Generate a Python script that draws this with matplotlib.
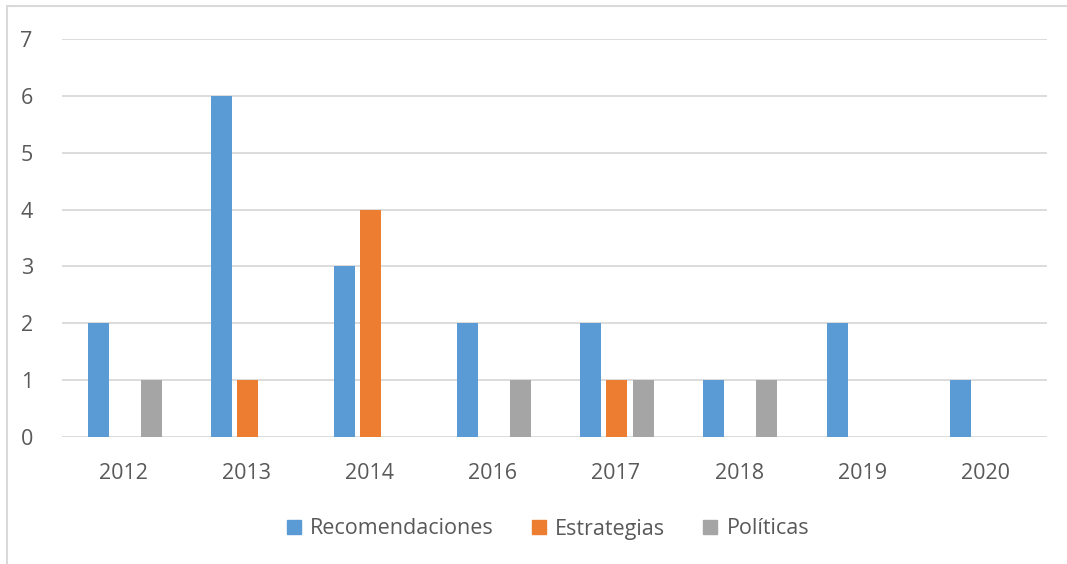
import matplotlib.pyplot as plt
import matplotlib.patches as mpatches
import numpy as np

# --- data ---
years = ["2012", "2013", "2014", "2016", "2017", "2018", "2019", "2020"]
recomendaciones = [2, 6, 3, 2, 2, 1, 2, 1]
estrategias = [0, 1, 4, 0, 1, 0, 0, 0]
politicas = [1, 0, 0, 1, 1, 1, 0, 0]
series_names = ["Recomendaciones", "Estrategias", "Políticas"]

colors = ["#5B9BD5", "#ED7D31", "#A5A5A5"]
text_col = "#595959"
grid_col = "#D9D9D9"

plt.rcParams['font.family'] = ['Open Sans', 'DejaVu Sans']

fig = plt.figure(figsize=(10.67, 5.64), dpi=100)
ax = fig.add_axes([62 / 1067, 1 - 437 / 564, 985 / 1067, 398 / 564])

x = np.arange(len(years))
width = 0.17
offsets = [-0.205, 0.005, 0.225]
for vals, off, col in zip([recomendaciones, estrategias, politicas], offsets, colors):
    ax.bar(x + off, vals, width=width, color=col, zorder=3)

ax.set_xlim(-0.5, len(years) - 0.5)
ax.set_ylim(0, 7)
ax.set_yticks(range(0, 8))
ax.set_xticks(x)
ax.set_xticklabels(years)
ax.yaxis.grid(True, color=grid_col, linewidth=1.3, zorder=0)
ax.tick_params(length=0, labelsize=15.5, labelcolor=text_col)
ax.tick_params(axis="x", pad=19)
ax.tick_params(axis="y", pad=21)
for s in ax.spines.values():
    s.set_visible(False)

# Legend
handles = [mpatches.Patch(color=c, label=n) for c, n in zip(colors, series_names)]
fig.legend(handles=handles, loc="center", bbox_to_anchor=(548 / 1067, 1 - 529 / 564),
           ncol=3, frameon=False, fontsize=15.5, labelcolor=text_col,
           handlelength=0.65, handleheight=0.65, handletextpad=0.45, columnspacing=1.75)

# outer chart border
fig.patches.append(mpatches.Rectangle((7 / 1067, -0.1), 1.1, 1 - 6 / 564 + 0.1,
                                      transform=fig.transFigure, fill=False,
                                      edgecolor=grid_col, linewidth=1.5))

fig.savefig("out.png", dpi=100)
